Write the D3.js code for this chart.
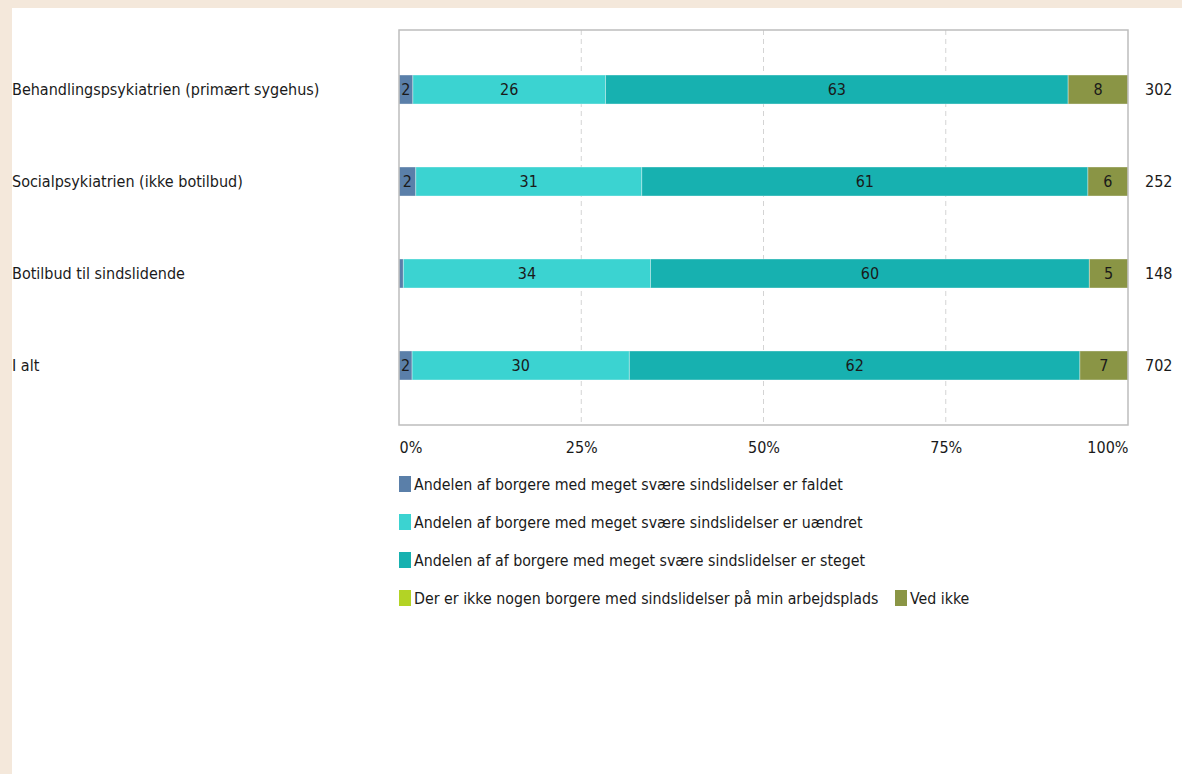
<!DOCTYPE html>
<html>
<head>
<meta charset="utf-8">
<script src="https://cdn.jsdelivr.net/npm/d3@7"></script>
<style>
  html, body { margin: 0; padding: 0; background: #f4e8db; }
  svg { display: block; }
  text { font-family: "DejaVu Sans Condensed", "DejaVu Sans", sans-serif; fill: #1a1a1a; }
</style>
</head>
<body>
<svg id="chart" width="1182" height="774"></svg>
<script>
const categories = [
  "Behandlingspsykiatrien (primært sygehus)",
  "Socialpsykiatrien (ikke botilbud)",
  "Botilbud til sindslidende",
  "I alt"
];
const seriesNames = [
  "Andelen af borgere med meget svære sindslidelser er faldet",
  "Andelen af borgere med meget svære sindslidelser er uændret",
  "Andelen af af borgere med meget svære sindslidelser er steget",
  "Der er ikke nogen borgere med sindslidelser på min arbejdsplads",
  "Ved ikke"
];
const faldet   = [1.9, 2.3, 0.6, 1.8];
const uaendret = [26.4, 31.0, 33.9, 29.8];
const steget   = [63.4, 61.2, 60.2, 61.8];
const ingen    = [0, 0, 0, 0];
const vedIkke  = [8.2, 5.5, 5.3, 6.6];
const totals   = [302, 252, 148, 702];
const tickValues = [0, 0.25, 0.5, 0.75, 1];
const colors = ["#5a7fa9", "#3bd3d1", "#17b1b0", "#b3d325", "#8a9545"];

const seriesValues = [faldet, uaendret, steget, ingen, vedIkke];
const rows = categories.map((c, i) => {
  const o = { category: c, total: totals[i] };
  seriesNames.forEach((s, j) => o[s] = seriesValues[j][i]);
  return o;
});

const svg = d3.select("#chart");
// white panel
svg.append("rect").attr("x", 12).attr("y", 8).attr("width", 1170).attr("height", 766).attr("fill", "#fff");

const plot = { left: 399, right: 1128, top: 30, bottom: 425 };
const x = d3.scaleLinear().domain([0, 1]).range([plot.left, plot.right]);
const y = d3.scalePoint().domain(categories).range([plot.top, plot.bottom]).padding(0.647);
const barH = 29;

// gridlines
svg.append("g").selectAll("line").data(tickValues.slice(1, -1)).join("line")
  .attr("x1", d => x(d)).attr("x2", d => x(d))
  .attr("y1", plot.top).attr("y2", plot.bottom)
  .attr("stroke", "#d4d4d4").attr("stroke-width", 1).attr("stroke-dasharray", "5,4");

const stack = d3.stack().keys(seriesNames).offset(d3.stackOffsetExpand);
const stacked = stack(rows);

const layers = svg.append("g").selectAll("g").data(stacked).join("g")
  .attr("fill", (d, i) => colors[i]);

layers.selectAll("rect").data(d => d).join("rect")
  .attr("x", d => x(d[0]))
  .attr("y", d => y(d.data.category) - barH / 2)
  .attr("width", d => Math.max(0, x(d[1]) - x(d[0])))
  .attr("height", barH)
  .attr("stroke", "#ffffff").attr("stroke-opacity", 0.35).attr("stroke-width", 1);

// segment labels
stacked.forEach((layer, i) => {
  svg.append("g").selectAll("text").data(layer.filter(d => (x(d[1]) - x(d[0])) > 10)).join("text")
    .attr("x", d => (x(d[0]) + x(d[1])) / 2)
    .attr("y", d => y(d.data.category))
    .attr("dy", "0.35em")
    .attr("text-anchor", "middle")
    .attr("font-size", 16)
    .text(d => Math.round(d.data[layer.key]));
});

// plot border
svg.append("rect").attr("x", plot.left).attr("y", plot.top)
  .attr("width", plot.right - plot.left).attr("height", plot.bottom - plot.top)
  .attr("fill", "none").attr("stroke", "#bdbdbd").attr("stroke-width", 1.5);

// category labels
svg.append("g").selectAll("text").data(categories).join("text")
  .attr("x", 12).attr("y", d => y(d)).attr("dy", "0.35em")
  .attr("font-size", 16).text(d => d);

// totals
svg.append("g").selectAll("text").data(rows).join("text")
  .attr("x", 1145).attr("y", d => y(d.category)).attr("dy", "0.35em")
  .attr("font-size", 16).text(d => d.total);

// x axis
const xAxis = svg.append("g").attr("transform", `translate(0,${plot.bottom})`)
  .call(d3.axisBottom(x).tickValues(tickValues).tickFormat(d3.format(".0%")).tickSize(0).tickPadding(17));
xAxis.select(".domain").remove();
xAxis.selectAll("text")
  .attr("font-size", 16).attr("fill", "#1a1a1a")
  .style("font-family", '"DejaVu Sans Condensed", "DejaVu Sans", sans-serif')
  .attr("text-anchor", (d, i) => i === 0 ? "start" : (i === tickValues.length - 1 ? "end" : "middle"));

// legend
const legendItems = [
  { name: seriesNames[0], color: colors[0], x: 399, y: 484 },
  { name: seriesNames[1], color: colors[1], x: 399, y: 522 },
  { name: seriesNames[2], color: colors[2], x: 399, y: 560 },
  { name: seriesNames[3], color: colors[3], x: 399, y: 598 },
  { name: seriesNames[4], color: colors[4], x: 895, y: 598 }
];
const lg = svg.append("g").selectAll("g").data(legendItems).join("g")
  .attr("transform", d => `translate(${d.x},${d.y})`);
lg.append("rect").attr("x", 0).attr("y", -8).attr("width", 12).attr("height", 16).attr("fill", d => d.color);
lg.append("text").attr("x", 15).attr("y", 0).attr("dy", "0.35em").attr("font-size", 15.8).text(d => d.name);
</script>
</body>
</html>
